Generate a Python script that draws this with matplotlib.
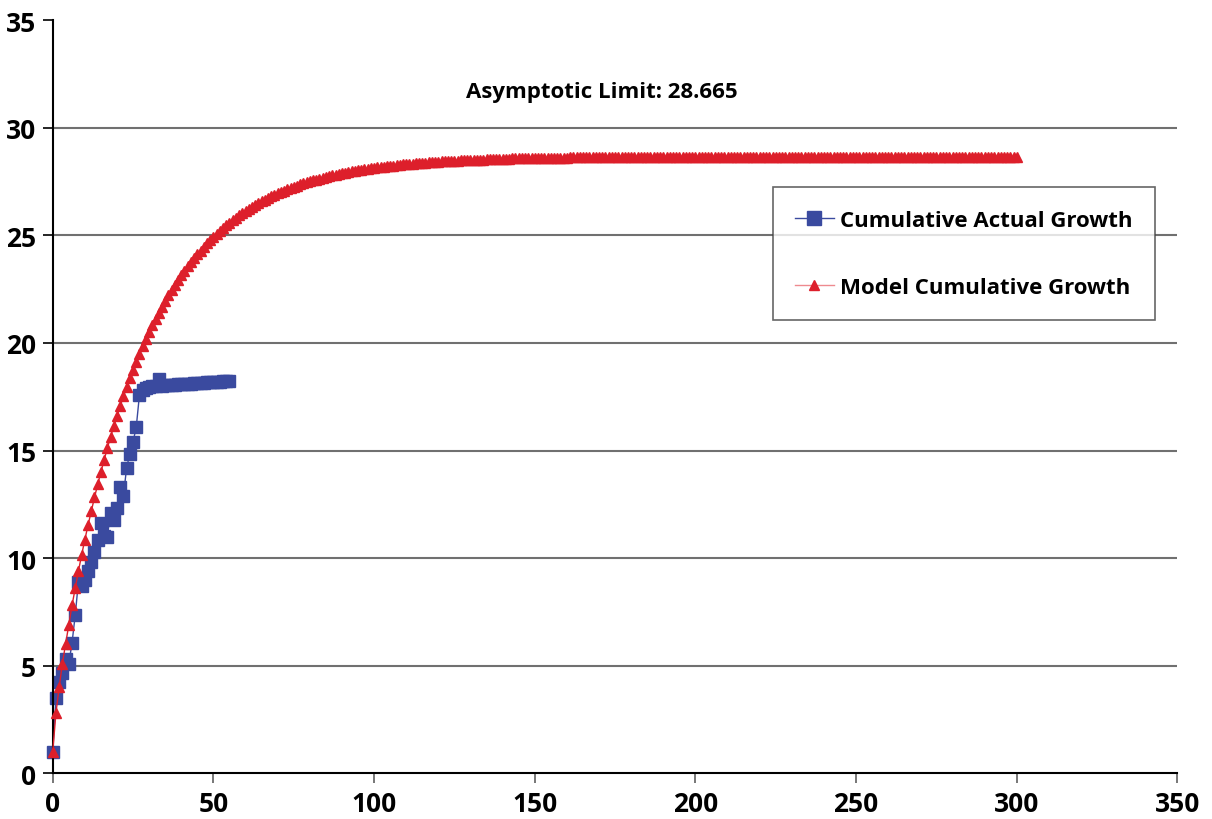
import matplotlib
matplotlib.use("Agg")
import matplotlib.pyplot as plt

plt.rcParams['font.family'] = ['Open Sans', 'DejaVu Sans']
plt.rcParams['font.weight'] = 'bold'

# actual cumulative growth, one point per period 0..55
actual_x = list(range(0, 56))
actual_y = [1.0, 3.5, 4.25, 4.65, 5.3, 5.1, 6.05, 7.35, 8.9, 8.7,
            9.0, 9.4, 9.8, 10.3, 10.85, 11.65, 11.05, 11.0, 12.1, 11.75,
            12.35, 13.3, 12.9, 14.2, 14.85, 15.4, 16.1, 17.6, 17.8, 17.9,
            17.95, 18.0, 18.0, 18.3, 18.02, 18.03, 18.04, 18.05, 18.06, 18.07,
            18.08, 18.09, 18.1, 18.11, 18.12, 18.13, 18.14, 18.15, 18.16, 18.17,
            18.18, 18.19, 18.2, 18.21, 18.22, 18.25]

# model cumulative growth, one point per period 0..300
model_x = list(range(0, 301))
model_y = [
    1.0, 2.8, 4.0, 5.1, 6.0, 6.9, 7.8, 8.6, 9.4, 10.15,
    10.86, 11.54, 12.19, 12.82, 13.43, 14.01, 14.57, 15.11, 15.63, 16.13,
    16.61, 17.07, 17.51, 17.94, 18.35, 18.75, 19.12, 19.49, 19.84, 20.18,
    20.50, 20.81, 21.12, 21.40, 21.68, 21.95, 22.21, 22.45, 22.69, 22.92,
    23.14, 23.35, 23.55, 23.75, 23.94, 24.12, 24.29, 24.46, 24.62, 24.77,
    24.92, 25.07, 25.20, 25.34, 25.46, 25.59, 25.70, 25.82, 25.93, 26.03,
    26.13, 26.23, 26.32, 26.41, 26.50, 26.58, 26.66, 26.74, 26.81, 26.88,
    26.95, 27.02, 27.08, 27.14, 27.20, 27.25, 27.31, 27.36, 27.41, 27.46,
    27.50, 27.55, 27.59, 27.63, 27.67, 27.71, 27.75, 27.78, 27.82, 27.85,
    27.88, 27.91, 27.94, 27.97, 27.99, 28.02, 28.04, 28.07, 28.09, 28.11,
    28.13, 28.15, 28.17, 28.19, 28.21, 28.23, 28.24, 28.26, 28.28, 28.29,
    28.30, 28.32, 28.33, 28.34, 28.36, 28.37, 28.38, 28.39, 28.40, 28.41,
    28.42, 28.43, 28.44, 28.45, 28.46, 28.46, 28.47, 28.48, 28.49, 28.49,
    28.50, 28.51, 28.51, 28.52, 28.52, 28.53, 28.53, 28.54, 28.54, 28.55,
    28.55, 28.56, 28.56, 28.57, 28.57, 28.57, 28.58, 28.58, 28.58, 28.59,
    28.59, 28.59, 28.59, 28.60, 28.60, 28.60, 28.61, 28.61, 28.61, 28.61,
    28.61, 28.62, 28.62, 28.62, 28.62, 28.62, 28.62, 28.63, 28.63, 28.63,
    28.63, 28.63, 28.63, 28.63, 28.64, 28.64, 28.64, 28.64, 28.64, 28.64,
    28.64, 28.64, 28.64, 28.64, 28.64, 28.65, 28.65, 28.65, 28.65, 28.65,
    28.65, 28.65, 28.65, 28.65, 28.65, 28.65, 28.65, 28.65, 28.65, 28.65,
    28.65, 28.65, 28.65, 28.65, 28.65, 28.65, 28.65, 28.65, 28.65, 28.65,
    28.65, 28.65, 28.65, 28.66, 28.66, 28.66, 28.66, 28.66, 28.66, 28.66,
    28.66, 28.66, 28.66, 28.66, 28.66, 28.66, 28.66, 28.66, 28.66, 28.66,
    28.66, 28.66, 28.66, 28.66, 28.66, 28.66, 28.66, 28.66, 28.66, 28.66,
    28.66, 28.66, 28.66, 28.66, 28.66, 28.66, 28.66, 28.66, 28.66, 28.66,
    28.66, 28.66, 28.66, 28.66, 28.66, 28.66, 28.66, 28.66, 28.66, 28.66,
    28.66, 28.66, 28.66, 28.66, 28.66, 28.66, 28.66, 28.66, 28.66, 28.66,
    28.66, 28.66, 28.66, 28.66, 28.66, 28.66, 28.66, 28.66, 28.66, 28.66,
    28.66, 28.66, 28.66, 28.66, 28.66, 28.66, 28.66, 28.66, 28.66, 28.66,
    28.66, 28.66, 28.66, 28.66, 28.66, 28.66, 28.66, 28.66, 28.66, 28.66,
    28.66]

asymptote = 28.665
x_ticks = [0, 50, 100, 150, 200, 250, 300, 350]
y_ticks = [0, 5, 10, 15, 20, 25, 30, 35]

blue = '#3a4a9f'
red = '#dd1f2b'

fig = plt.figure(figsize=(12.12, 8.20), dpi=100)
ax = fig.add_axes([0.0435, 0.0557, 0.928, 0.9186])

for y in y_ticks[1:-1]:
    ax.axhline(y, color='#707070', lw=1.5, zorder=0)

ax.plot(actual_x, actual_y, color=blue, lw=1, marker='s', ms=9,
        mfc=blue, mec=blue, label='Cumulative Actual Growth', zorder=2,
        clip_on=False)
ax.plot(model_x, model_y, color=red, lw=1, marker='^', ms=7,
        mfc=red, mec=red, label='Model Cumulative Growth', zorder=3,
        clip_on=False)

ax.set_xlim(0, 350)
ax.set_ylim(0, 35)
ax.set_xticks(x_ticks)
ax.set_yticks(y_ticks)
ax.tick_params(axis='both', labelsize=19, direction='out', length=7,
               width=1.2, pad=5)
ax.tick_params(axis='x', color='#606060')
for lab in ax.get_xticklabels() + ax.get_yticklabels():
    lab.set_fontweight('bold')
ax.spines['top'].set_visible(False)
ax.spines['right'].set_visible(False)
ax.spines['left'].set_linewidth(1.5)
ax.spines['bottom'].set_linewidth(1.5)

ax.text(171, 31.7, 'Asymptotic Limit: %.3f' % asymptote, ha='center', va='center',
        fontsize=16, fontweight='bold')

leg = ax.legend(loc='upper left', bbox_to_anchor=(0.640, 0.778),
                frameon=True, fancybox=False, edgecolor='#404040',
                handlelength=1.75, labelspacing=2.1, borderpad=1.0,
                borderaxespad=0, handletextpad=0.3,
                prop={'weight': 'bold', 'size': 16})
leg.get_frame().set_linewidth(1.2)
leg_lines = leg.get_lines()
leg_lines[0].set_markersize(9.5)
leg_lines[1].set_markersize(7)
leg_lines[1].set_color('#ee8a8f')
leg_lines[1].set_markerfacecolor(red)
leg_lines[1].set_markeredgecolor(red)

fig.savefig('out.png', dpi=100)
